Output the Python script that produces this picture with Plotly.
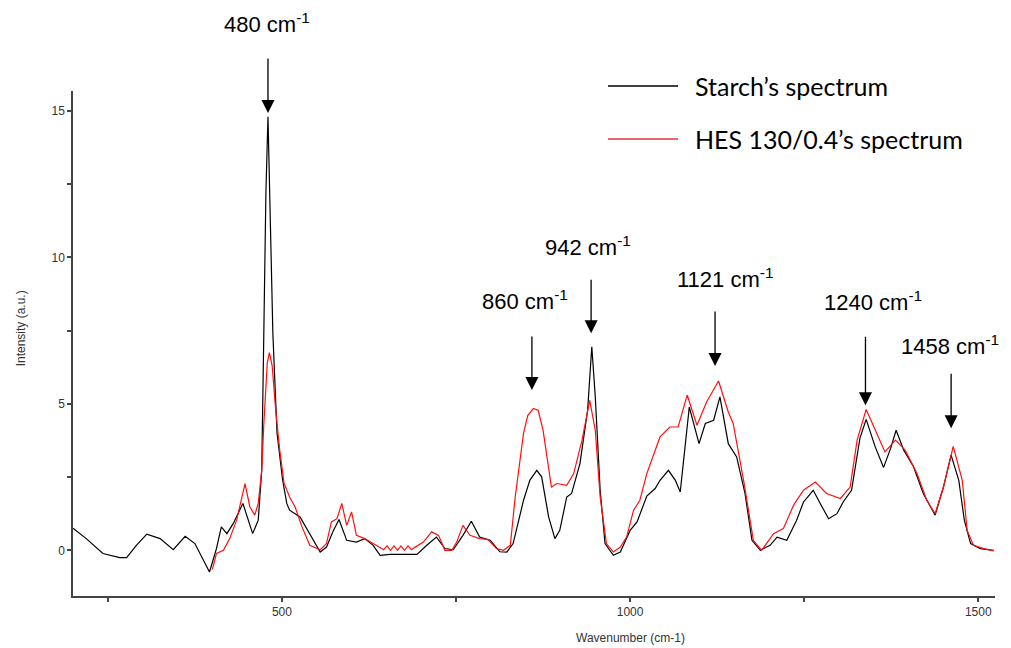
import plotly.graph_objects as go

# ---------------- data ----------------
starch_x = [200, 219, 243, 267, 277, 291, 306, 325, 344, 361, 375, 385, 396, 406, 413, 421, 430, 444,
            458, 466, 471, 474, 477, 480, 483, 487, 493, 501, 507, 511, 526, 540, 555, 564, 574, 582,
            593, 607, 619, 631, 641, 655, 674, 694, 708, 722, 734, 746, 760, 772, 784, 799, 813, 823,
            832, 847, 856, 866, 873, 883, 892, 899, 909, 916, 928, 939, 945, 950, 957, 964, 976, 986,
            1000, 1010, 1024, 1036, 1043, 1055, 1065, 1072, 1085, 1099, 1108, 1120, 1129, 1141, 1153,
            1165, 1175, 1187, 1201, 1211, 1225, 1239, 1249, 1263, 1273, 1285, 1297, 1306, 1318, 1330,
            1339, 1352, 1364, 1374, 1382, 1393, 1407, 1421, 1438, 1450, 1461, 1472, 1480, 1489, 1503,
            1522]
starch_y = [0.75, 0.40, -0.11, -0.25, -0.25, 0.17, 0.55, 0.40, 0.02, 0.48, 0.23, -0.23, -0.74, 0.06,
            0.80, 0.57, 0.91, 1.60, 0.57, 1.03, 2.73, 7.4, 12.2, 14.8, 12.0, 7.4, 4.0, 2.4, 1.6, 1.37,
            1.14, 0.57, -0.06, 0.11, 0.68, 1.05, 0.34, 0.28, 0.40, 0.17, -0.17, -0.14, -0.14, -0.14,
            0.17, 0.45, 0.06, 0.02, 0.51, 0.99, 0.45, 0.34, -0.05, -0.06, 0.23, 1.71, 2.39, 2.73, 2.51,
            1.14, 0.40, 0.68, 1.82, 1.94, 2.96, 4.78, 6.95, 5.24, 2.05, 0.23, -0.17, -0.06, 0.68, 0.97,
            1.85, 2.11, 2.39, 2.73, 2.39, 1.99, 4.89, 3.64, 4.33, 4.44, 5.24, 3.64, 3.19, 1.94, 0.34,
            0.0, 0.17, 0.45, 0.34, 1.02, 1.65, 2.05, 1.60, 1.08, 1.25, 1.65, 2.05, 3.82, 4.47, 3.53,
            2.83, 3.47, 4.10, 3.42, 2.85, 1.94, 1.20, 2.16, 3.25, 2.39, 1.02, 0.23, 0.06, 0.0]

hes_x = [400, 406, 416, 425, 435, 447, 454, 461, 466, 471, 474, 479, 482, 486, 491, 497, 503, 511,
         519, 528, 540, 555, 564, 571, 579, 586, 593, 600, 607, 619, 631, 646, 651, 656, 661, 666,
         671, 676, 681, 686, 691, 703, 715, 725, 734, 744, 751, 760, 770, 784, 796, 808, 818, 828,
         835, 842, 847, 853, 861, 868, 875, 887, 895, 909, 919, 931, 942, 950, 957, 966, 976, 986, 995,
         1005, 1014, 1024, 1043, 1057, 1069, 1082, 1096, 1110, 1127, 1141, 1148, 1163, 1177, 1189,
         1206, 1220, 1235, 1249, 1266, 1282, 1302, 1316, 1326, 1339, 1352, 1366, 1381, 1395, 1412,
         1426, 1438, 1450, 1464, 1477, 1484, 1493, 1508, 1522]
hes_y = [-0.66, -0.11, 0.0, 0.40, 1.03, 2.28, 1.48, 1.20, 1.6, 2.73, 4.3, 6.4, 6.75, 6.3, 4.8, 3.4,
         2.3, 1.82, 1.48, 0.85, 0.17, 0.02, 0.23, 0.97, 1.08, 1.60, 0.85, 1.31, 0.51, 0.40, 0.23, 0.02,
         0.15, 0.0, 0.15, 0.0, 0.15, 0.0, 0.15, 0.02, 0.10, 0.28, 0.63, 0.51, 0.0, 0.0, 0.28, 0.85,
         0.51, 0.40, 0.37, 0.06, 0.0, 0.17, 1.82, 3.07, 4.0, 4.6, 4.84, 4.78, 4.10, 2.16, 2.28, 2.22,
         2.62, 3.76, 5.12, 4.10, 1.82, 0.23, -0.06, 0.11, 0.45, 1.37, 1.71, 2.62, 3.87, 4.21, 4.21, 5.30,
         4.27, 5.07, 5.78, 4.72, 4.33, 2.39, 0.34, 0.0, 0.57, 0.74, 1.55, 2.05, 2.33, 1.94, 1.77, 2.16,
         3.76, 4.81, 4.10, 3.36, 3.76, 3.42, 2.62, 1.71, 1.25, 2.16, 3.55, 2.39, 0.68, 0.17, 0.06, -0.02]

x_ticks = [250, 500, 750, 1000, 1250, 1500]
x_tick_labels = ["", "500", "", "1000", "", "1500"]
y_ticks = [0, 2.5, 5, 7.5, 10, 12.5, 15]
y_tick_labels = ["0", "", "5", "", "10", "", "15"]

peak_x = [480, 859, 944, 1122, 1338, 1461]
peak_tip_y = [14.93, 5.47, 7.41, 6.29, 4.95, 4.17]
peak_labels = ["480", "860", "942", "1121", "1240", "1458"]

series_names = ["Starch\u2019s spectrum", "HES 130/0.4\u2019s spectrum"]

# ---------------- figure ----------------
fig = go.Figure()
fig.add_trace(go.Scatter(x=starch_x, y=starch_y, mode="lines", name=series_names[0],
                         line=dict(color="black", width=1.2), showlegend=False))
fig.add_trace(go.Scatter(x=hes_x, y=hes_y, mode="lines", name=series_names[1],
                         line=dict(color="#ff1010", width=1.2), showlegend=False))

tick_font = dict(family="Liberation Sans, Arial", size=12, color="#333")

fig.update_layout(
    width=1011, height=648,
    margin=dict(l=73, r=16, t=91, b=52),
    paper_bgcolor="white", plot_bgcolor="white",
    xaxis=dict(range=[200, 1524], tickvals=x_ticks, ticktext=x_tick_labels, ticks="outside",
               ticklen=4, tickwidth=1.5, tickcolor="#444", showline=True, linecolor="#444",
               linewidth=1.5, showgrid=False, zeroline=False, tickfont=tick_font),
    yaxis=dict(range=[-1.56, 15.68], tickvals=y_ticks, ticktext=y_tick_labels, ticks="outside",
               ticklen=4, tickwidth=1.5, tickcolor="#444", showline=True, linecolor="#444",
               linewidth=1.5, showgrid=False, zeroline=False, tickfont=tick_font),
    showlegend=False,
)

annotations = []
# axis titles
annotations.append(dict(text="Wavenumber (cm-1)", xref="x", yref="paper", x=1000, y=0,
                        yshift=-42, showarrow=False, font=tick_font, xanchor="center", yanchor="middle"))
annotations.append(dict(text="Intensity (a.u.)", xref="paper", yref="paper", x=0, y=0.53,
                        xshift=-52, showarrow=False, textangle=-90, font=tick_font,
                        xanchor="center", yanchor="middle"))

# peak arrows and labels
tail_len = [56, 55, 55, 56, 70, 56]
label_dx = [-1, -7, -3, 10, 8, -1]
label_py = [23, 300, 246, 278, 301, 345]
for px_, ty, lab, L, dx, lpy in zip(peak_x, peak_tip_y, peak_labels, tail_len, label_dx, label_py):
    annotations.append(dict(x=px_, y=ty, xref="x", yref="y", text="", showarrow=True,
                            ax=0, ay=-L, arrowhead=2, arrowsize=2.0, arrowwidth=1.3,
                            arrowcolor="black"))
    annotations.append(dict(x=px_, y=(596 - lpy) / 505, xref="x", yref="paper",
                            text=lab + " cm<sup>-1</sup>", showarrow=False, xshift=dx,
                            font=dict(family="Liberation Sans, Arial", size=22, color="black"),
                            xanchor="center", yanchor="middle"))

# legend drawn manually
legend_font = dict(family="Lato, Carlito, Open Sans", size=25, color="black")
leg_y = [(596 - 86) / 505, (596 - 139) / 505]
leg_colors = ["black", "#e8303f"]
shapes = []
for name, yy, col in zip(series_names, leg_y, leg_colors):
    shapes.append(dict(type="line", xref="paper", yref="paper",
                       x0=(608 - 73) / 922, x1=(678 - 73) / 922, y0=yy, y1=yy,
                       line=dict(color=col, width=1.3)))
    annotations.append(dict(text=name, xref="paper", yref="paper", x=(693 - 73) / 922, y=yy,
                            showarrow=False, xanchor="left", yanchor="middle", font=legend_font))

fig.update_layout(annotations=annotations, shapes=shapes)
fig.write_html("out.html")
